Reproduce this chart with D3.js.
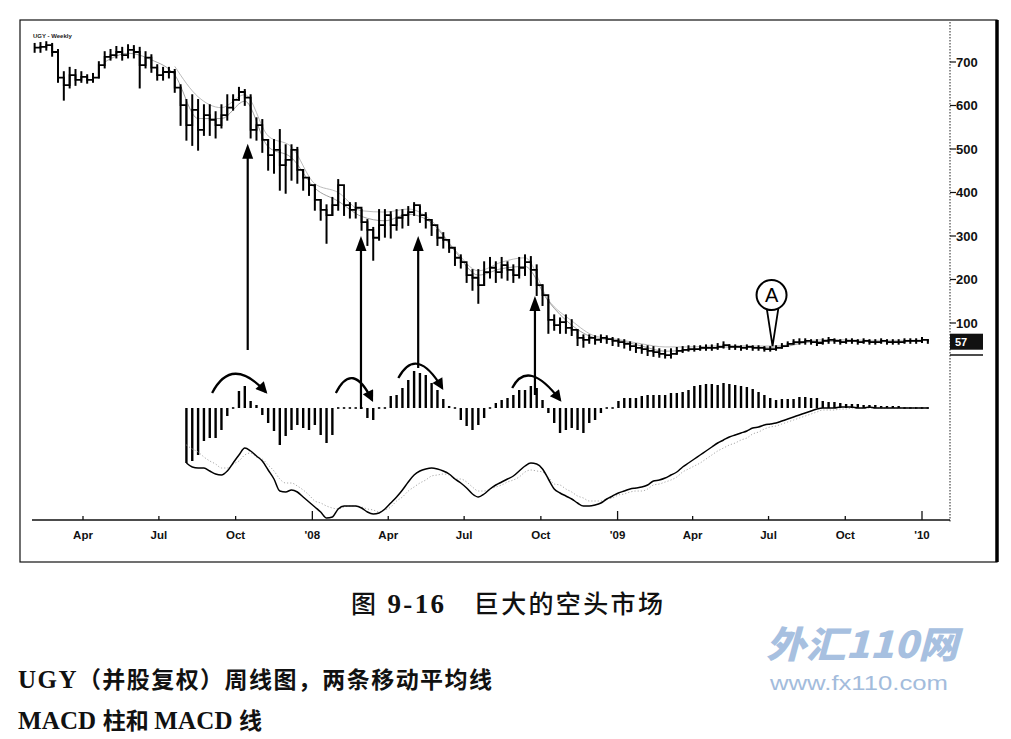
<!DOCTYPE html>
<html><head><meta charset="utf-8">
<script src="https://cdn.jsdelivr.net/npm/d3@7"></script>
<style>body{margin:0;background:#fff;} svg{display:block}</style>
</head><body>
<svg id="c" width="1011" height="739"></svg>
<script>
// ---------- DATA ----------
const firstWeek = new Date(2007, 1, 2);   // week 0 (weekly bars)
const closes = [733,735,739,723,664,647,670,659,666,659,
 664,693,712,716,723,716,728,723,693,710,
 687,670,677,677,641,601,555,590,544,578,
 567,555,578,595,613,631,618,544,555,521,
 486,498,463,475,498,452,434,417,383,360,
 348,371,417,371,360,365,332,314,296,325,
 348,325,342,348,355,371,348,337,325,296,
 291,273,250,240,210,204,187,217,227,217,
 233,222,210,227,240,222,187,164,107,95,
 102,89,84,66,61,66,61,66,63,59,
 56,52,47,43,40,36,33,29,26,29,
 36,38,40,40,43,43,43,45,49,45,
 45,43,45,43,43,40,40,43,47,52,
 56,56,59,56,54,59,61,59,56,59,
 59,56,59,56,56,59,56,56,56,59,
 59,59,61,57];
const highs = [742,744,746,742,728,677,687,682,677,670,
 673,700,723,728,735,733,739,737,733,723,
 716,693,687,687,682,647,613,624,613,601,
 601,585,601,624,624,641,636,624,571,567,
 521,521,544,509,509,503,452,434,417,383,
 371,388,429,383,376,376,360,337,319,360,
 360,355,360,360,367,376,367,353,337,314,
 307,291,268,256,233,222,222,240,250,240,
 250,240,233,250,256,252,233,187,153,118,
 111,118,107,84,72,72,70,72,70,66,
 63,61,56,52,49,47,45,40,38,40,
 43,45,47,47,47,49,49,52,56,49,
 49,47,49,47,47,45,45,47,52,56,
 61,63,63,61,61,63,66,63,61,63,
 63,61,63,61,61,63,61,61,61,63,
 63,63,66,61];
const lows = [723,723,728,714,654,613,641,647,654,652,
 654,664,687,705,710,705,710,710,641,687,
 677,659,659,664,631,555,521,509,498,532,
 532,526,549,567,590,613,601,526,521,493,
 452,445,406,399,429,422,406,394,360,337,
 284,348,360,348,342,342,314,279,245,291,
 298,296,314,319,325,348,332,319,302,279,
 273,263,233,227,194,176,146,187,204,194,
 204,199,194,204,210,187,164,141,77,84,
 77,77,72,49,45,54,52,56,54,49,
 47,43,38,33,31,26,24,22,20,20,
 29,33,36,36,38,38,38,40,43,40,
 40,38,40,38,38,36,36,38,43,47,
 52,52,52,52,49,52,54,54,52,54,
 54,52,54,52,52,54,52,52,52,54,
 54,54,56,54];
const lastPrice = "57";

// two moving averages (read every 4 weeks; mostly hidden inside the bars)
const maFastWeeks = [12,16,20,24,28,32,36,40,44,48,52,56,60,64,68,72,76,80,84,88,92,96,100,104,108,112,116,120,124,128,132,136,140,144,148,152];
const maFastVals  = [700,720,705,670,570,570,610,505,480,410,380,345,335,350,330,265,210,225,230,150,95,66,60,47,35,38,43,45,44,45,55,58,58,57,57,58];
const maSlowWeeks = [24,28,32,36,40,44,48,52,56,60,64,68,72,76,80,84,88,92,96,100,104,108,112,116,120,124,128,132,136,140,144,148,152];
const maSlowVals  = [690,620,595,625,530,505,420,400,358,355,362,335,268,220,240,250,153,105,70,62,52,45,45,47,48,47,48,58,62,61,60,60,61];

// MACD panel, starting at week 26
const macdFirstWeek = 26;
const macdHist = [-55,-53,-47,-33,-30,-30,-22,-8,1,17,
 22,7,3,-7,-15,-23,-37,-28,-22,-17,
 -20,-22,-17,-27,-35,-27,1,1,1,1,
 1,-10,-12,1,1,12,13,20,28,37,
 35,33,25,18,9,2,0,-12,-18,-22,
 -17,-10,0,5,8,10,13,18,18,22,
 20,8,-5,-15,-25,-22,-20,-22,-25,-15,
 -12,-5,0,0,7,10,10,10,12,13,
 13,13,13,15,15,16,18,22,23,24,
 24,23,25,24,23,22,21,19,16,13,
 10,8,9,9,9,11,11,10,10,7,
 6,6,5,4,4,4,3,3,3,2,
 2,2,2,1,1,1,1,1];
const macdLine = [-55,-59,-60,-60,-63,-66,-67,-63,-55,-47,
 -40,-43,-48,-53,-62,-71,-83,-84,-82,-84,
 -89,-94,-99,-104,-110,-109,-101,-98,-98,-98,
 -100,-104,-106,-105,-101,-95,-89,-82,-74,-67,
 -63,-61,-60,-61,-63,-66,-71,-75,-80,-86,
 -89,-86,-81,-77,-74,-71,-68,-63,-58,-55,
 -56,-61,-71,-81,-85,-88,-91,-95,-98,-98,
 -97,-95,-91,-88,-85,-83,-81,-80,-79,-77,
 -73,-72,-70,-67,-64,-59,-55,-51,-47,-43,
 -39,-35,-32,-29,-27,-25,-23,-20,-19,-17,
 -16,-15,-13,-11,-9,-7,-5,-3,-1,0,
 0,0,1,1,1,0,0,1,0,0,
 0,0,0,0,0,0,0,0];
const signalLine = [-37,-41,-44,-49,-53,-56,-60,-60,-56,-53,
 -47,-45,-49,-51,-57,-63,-71,-75,-75,-78,
 -82,-87,-93,-95,-98,-100,-101,-99,-98,-98,
 -99,-101,-102,-104,-102,-99,-93,-89,-83,-79,
 -75,-72,-68,-67,-66,-67,-71,-71,-74,-79,
 -83,-83,-81,-79,-77,-74,-72,-69,-64,-62,
 -63,-64,-69,-76,-77,-81,-84,-88,-90,-93,
 -93,-93,-91,-90,-87,-86,-84,-83,-83,-81,
 -77,-76,-74,-72,-69,-64,-61,-58,-55,-51,
 -47,-43,-40,-37,-35,-32,-30,-26,-24,-21,
 -19,-18,-16,-14,-12,-10,-8,-6,-4,-2,
 -2,-2,-1,-1,0,0,0,0,0,0,
 0,0,0,0,0,0,0,0];

// axis tick labels
const xTickDates  = [new Date(2007,3,1),new Date(2007,6,1),new Date(2007,9,1),new Date(2008,0,1),new Date(2008,3,1),new Date(2008,6,1),new Date(2008,9,1),new Date(2009,0,1),new Date(2009,3,1),new Date(2009,6,1),new Date(2009,9,1),new Date(2010,0,1)];
const xTickLabels = ["Apr","Jul","Oct","'08","Apr","Jul","Oct","'09","Apr","Jul","Oct","'10"];
const yTicks = [100,200,300,400,500,600,700];

// annotations
const upArrowWeeks  = [36.5, 55.9, 65.7, 85.7];
const upArrowTips   = [512, 300, 300, 162];
const upArrowBases  = [58, -1, 40, 13];
const humpWeeks = [[30.4, 33.8, 39.6],[51.6, 54.4, 57.8],[62.3, 65.4, 69.8],[81.8, 84.5, 90.0]];
const humpVals  = [[15, 53, 16],[15, 48, 8],[30, 63, 20],[20, 50, 8]];
const markerA = {week: 126.4, price: 47, label: "A"};

// ---------- CHART ----------
const svg = d3.select('#c');
const x = d3.scaleTime().domain([new Date(2007,3,1), new Date(2010,0,1)]).range([83, 922]);
const yP = d3.scaleLinear().domain([100,700]).range([323,62]);
const yM = d3.scaleLinear().domain([-110,0]).range([518,408]);
const wx = w => x(d3.timeDay.offset(firstWeek, Math.round(7*w)));
const wxf = w => x(new Date(firstWeek.getTime() + w*7*86400000));

// frame
svg.append('rect').attr('x',20).attr('y',20).attr('width',977).attr('height',542)
  .attr('fill','none').attr('stroke','#111').attr('stroke-width',1.2);
svg.append('line').attr('x1',997).attr('x2',997).attr('y1',20).attr('y2',562)
  .attr('stroke','#000').attr('stroke-width',3.5);

// right axis (dotted)
svg.append('line').attr('x1',950).attr('x2',950).attr('y1',22).attr('y2',522)
  .attr('stroke','#222').attr('stroke-width',1).attr('stroke-dasharray','1.5,1.5');
const ya = svg.append('g');
yTicks.forEach(t => {
  ya.append('line').attr('x1',950).attr('x2',956).attr('y1',yP(t)).attr('y2',yP(t)).attr('stroke','#111').attr('stroke-width',1.2);
  ya.append('text').attr('x',956).attr('y',yP(t)+4.5).text(t)
    .attr('font-family','Liberation Sans, Arial, sans-serif').attr('font-weight','bold').attr('font-size',13).attr('fill','#111');
});
// last price box
svg.append('rect').attr('x',950).attr('y',yP(+lastPrice)-8).attr('width',33).attr('height',16).attr('fill','#111');
svg.append('text').attr('x',955).attr('y',yP(+lastPrice)+4).text(lastPrice)
  .attr('font-family','Liberation Sans, Arial, sans-serif').attr('font-weight','bold').attr('font-size',11).attr('fill','#fff');
svg.append('line').attr('x1',950).attr('x2',983).attr('y1',355).attr('y2',355).attr('stroke','#111').attr('stroke-width',1.5);

// bottom axis
svg.append('line').attr('x1',32).attr('x2',950).attr('y1',520).attr('y2',520).attr('stroke','#111').attr('stroke-width',1.6);
xTickDates.forEach((d,i) => {
  const big = xTickLabels[i].startsWith("'");
  svg.append('line').attr('x1',x(d)).attr('x2',x(d)).attr('y1',520).attr('y2',big?511:516).attr('stroke','#111').attr('stroke-width',1.3);
  svg.append('text').attr('x',x(d)).attr('y',539).attr('text-anchor','middle').text(xTickLabels[i])
    .attr('font-family','Liberation Sans, Arial, sans-serif').attr('font-weight','bold').attr('font-size',11.5).attr('fill','#111');
});

// tiny title
svg.append('text').attr('x',33).attr('y',38).text('UGY - Weekly')
  .attr('font-family','Liberation Sans, Arial, sans-serif').attr('font-weight','bold').attr('font-size',6).attr('fill','#222');

// moving averages
const maLine = d3.line().x(d => wx(d[0])).y(d => yP(d[1])).curve(d3.curveMonotoneX);
svg.append('path').attr('d', maLine(maSlowWeeks.map((w,i)=>[w,maSlowVals[i]])))
  .attr('fill','none').attr('stroke','#aaa').attr('stroke-width',0.8);
svg.append('path').attr('d', maLine(maFastWeeks.map((w,i)=>[w,maFastVals[i]])))
  .attr('fill','none').attr('stroke','#888').attr('stroke-width',0.8);

// price bars: high-low bars plus a step line through the weekly closes
const bars = svg.append('g').attr('stroke','#000').attr('stroke-width',2);
closes.forEach((c,i) => {
  const xx = wx(i);
  bars.append('line').attr('x1',xx).attr('x2',xx).attr('y1',yP(highs[i])-0.8).attr('y2',yP(lows[i])+0.8);
});
const step = d3.line().x((d,i) => wx(i)).y(d => yP(d)).curve(d3.curveStepAfter);
svg.append('path').attr('d', step(closes)).attr('fill','none').attr('stroke','#000').attr('stroke-width',1.8);

// MACD histogram
const hg = svg.append('g').attr('stroke','#000').attr('stroke-width',2.4);
macdHist.forEach((h,k) => {
  const xx = wx(k + macdFirstWeek);
  let y0 = yM(0), y1 = yM(h);
  if (Math.abs(y1-y0) < 1.6) { y0 = yM(0)+0.8; y1 = yM(0)-0.8; }
  hg.append('line').attr('x1',xx).attr('x2',xx).attr('y1',y0).attr('y2',y1);
});
// signal + macd lines
const mLine = d3.line().x((d,k) => wx(k + macdFirstWeek)).y(d => yM(d)).curve(d3.curveMonotoneX);
svg.append('path').attr('d', mLine(signalLine)).attr('fill','none').attr('stroke','#aaa')
  .attr('stroke-width',1).attr('stroke-dasharray','1.2,2');
svg.append('path').attr('d', mLine(macdLine)).attr('fill','none').attr('stroke','#000').attr('stroke-width',1.5);

// arrowheads
const defs = svg.append('defs');
defs.append('marker').attr('id','ah').attr('viewBox','0 0 10 10').attr('refX',8).attr('refY',5)
  .attr('markerWidth',6).attr('markerHeight',5).attr('orient','auto').attr('markerUnits','strokeWidth')
  .append('path').attr('d','M0,0 L10,5 L0,10 z').attr('fill','#000');

// up arrows
upArrowWeeks.forEach((w,i) => {
  const xx = wxf(w), tip = yP(upArrowTips[i]), base = yM(upArrowBases[i]);
  svg.append('line').attr('x1',xx).attr('x2',xx).attr('y1',base).attr('y2',tip+10).attr('stroke','#000').attr('stroke-width',2.2);
  svg.append('path').attr('d',`M${xx},${tip} L${xx-5.5},${tip+15} L${xx+5.5},${tip+15} Z`).attr('fill','#000');
});

// curved arrows
humpWeeks.forEach((ws,i) => {
  const p0 = [wxf(ws[0]), yM(humpVals[i][0])], c = [wxf(ws[1]), yM(humpVals[i][1])], p1 = [wxf(ws[2]), yM(humpVals[i][2])];
  svg.append('path').attr('d',`M${p0[0]},${p0[1]} Q${c[0]},${c[1]} ${p1[0]},${p1[1]}`)
    .attr('fill','none').attr('stroke','#000').attr('stroke-width',2.3).attr('marker-end','url(#ah)');
});

// marker A
{
  const mx = wxf(markerA.week), my = yP(markerA.price);
  const cy = my - 51;
  svg.append('path').attr('d',`M${mx-6},${cy+12} L${mx},${my} L${mx+6},${cy+12}`).attr('fill','#fff').attr('stroke','#000').attr('stroke-width',1.8);
  svg.append('circle').attr('cx',mx-1).attr('cy',cy).attr('r',15).attr('fill','#fff').attr('stroke','#000').attr('stroke-width',2);
  svg.append('text').attr('x',mx-1).attr('y',cy+7).attr('text-anchor','middle').text(markerA.label)
    .attr('font-family','Liberation Sans, Arial, sans-serif').attr('font-size',20).attr('fill','#000');
}

// ---------- CAPTIONS ----------
const cjk = "'Noto Sans CJK SC', sans-serif";
const cap = svg.append('text').attr('x',351).attr('y',613).attr('font-size',25).attr('fill','#111')
  .attr('font-family',cjk).attr('font-weight',500).attr('textLength',312).attr('lengthAdjust','spacing');
cap.append('tspan').text('图');
cap.append('tspan').attr('font-family','Liberation Serif, serif').attr('font-weight',700).attr('font-size',27).text(' 9-16');
cap.append('tspan').text('　巨大的空头市场');

const l1 = svg.append('text').attr('x',18).attr('y',688).attr('font-size',23).attr('fill','#111')
  .attr('font-family',cjk).attr('font-weight',700).attr('textLength',474).attr('lengthAdjust','spacing');
l1.append('tspan').attr('font-family','Liberation Serif, serif').attr('font-weight',700).attr('font-size',25).text('UGY');
l1.append('tspan').text('（并股复权）周线图，两条移动平均线');

const l2 = svg.append('text').attr('x',18).attr('y',729).attr('font-size',23).attr('fill','#111')
  .attr('font-family',cjk).attr('font-weight',700).attr('textLength',244).attr('lengthAdjust','spacing');
l2.append('tspan').attr('font-family','Liberation Serif, serif').attr('font-weight',700).attr('font-size',25).text('MACD ');
l2.append('tspan').text('柱和 ');
l2.append('tspan').attr('font-family','Liberation Serif, serif').attr('font-weight',700).attr('font-size',25).text('MACD ');
l2.append('tspan').text('线');

// watermark
svg.append('text').attr('x',766).attr('y',658).text('外汇110网')
  .attr('font-family',cjk).attr('font-weight',900).attr('font-size',37).attr('font-style','italic')
  .attr('fill','#a7c0e0').attr('textLength',192).attr('lengthAdjust','spacingAndGlyphs');
svg.append('text').attr('x',770).attr('y',690).text('www.fx110.com')
  .attr('font-family','Liberation Sans, Arial, sans-serif').attr('font-size',21)
  .attr('fill','#a3bcdc').attr('textLength',178).attr('lengthAdjust','spacingAndGlyphs');
</script>
</body></html>
